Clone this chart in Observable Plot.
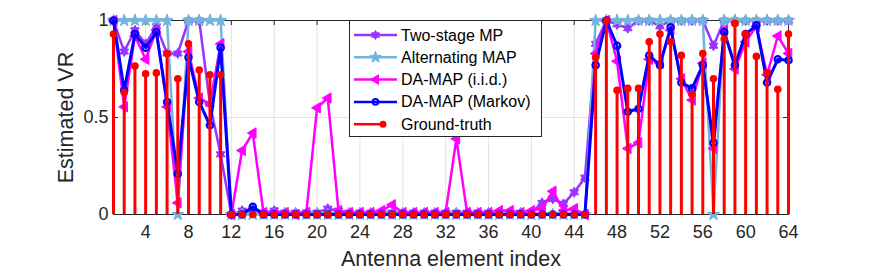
<!DOCTYPE html>
<html><head><meta charset="utf-8">
<script src="https://cdn.jsdelivr.net/npm/d3@7"></script>
<script src="https://cdn.jsdelivr.net/npm/@observablehq/plot@0.6"></script>
<style>
body{margin:0;background:#fff;}
#wrap{position:relative;width:872px;height:273px;font-family:"Liberation Sans",Arial,Helvetica,sans-serif;}
#legend{position:absolute;left:349px;top:20px;}
</style></head><body><div id="wrap"></div>
<script>
const antennaIndex = d3.range(1, 65);
const twoStageMP = [1.0,0.84,0.95,0.88,0.97,0.83,0.83,1.0,1.0,0.57,0.31,
  0,0.02,0.02,0.01,0.02,0.01,0.01,0.01,0.01,0.03,0.02,0.01,0.01,0.01,0.01,0.01,0.01,0.01,0.01,0.01,0.01,0.01,0.01,0.01,0.01,0.01,0.01,0.01,0.01,0.06,0.08,0.055,0.115,0.19,
  0.88,1.0,0.98,0.96,1.0,1.0,0.97,1.0,1.0,1.0,1.0,0.87,1.0,1.0,1.0,1.0,1.0,1.0,1.0];
const alternatingMAP = [1,1,1,1,1,1,0,1,1,1,1,
  0,0,0,0,0,0,0,0,0,0,0,0,0,0,0,0,0,0,0,0,0,0,0,0,0,0,0,0,0,0,0,0,0,0,
  1,1,1,1,1,1,1,1,1,1,1,0,1,1,1,1,1,1,1];
const daMapIID = [1.0,0.555,0.92,0.80,0.95,0.555,0.06,0.84,0.60,0.57,0.88,
  0.0,0.33,0.42,0.01,0.01,0.01,0.0,0.01,0.55,0.60,0.02,0.01,0.01,0.01,0.02,0.05,0.01,0.01,0.01,0.01,0.01,0.39,0.01,0.01,0.01,0.02,0.02,0.01,0.02,0.03,0.12,0.02,0.03,0.0,
  0.83,1.0,0.79,0.34,0.37,0.80,0.78,0.95,0.70,0.59,0.78,0.34,0.95,0.75,0.89,0.97,0.72,0.92,0.83];
const daMapMarkov = [1.0,0.64,0.93,0.86,0.94,0.58,0.21,0.81,0.58,0.46,0.86,
  0,0,0.04,0,0,0,0,0,0,0,0,0,0,0,0,0,0,0,0,0,0,0,0,0,0,0,0,0,0,0,0,0,0,0,
  0.77,1.0,0.87,0.53,0.545,0.82,0.77,0.965,0.68,0.65,0.77,0.37,0.94,0.77,0.93,0.975,0.68,0.80,0.795];
const groundTruth = [0.93,0.63,0.765,0.725,0.73,0.83,0.70,0.88,0.745,0.72,0.72,
  0,0,0,0,0,0,0,0,0,0,0,0,0,0,0,0,0,0,0,0,0,0,0,0,0,0,0,0,0,0,0,0,0,0,
  0.81,1.0,0.64,0.65,0.65,0.89,0.93,0.89,0.82,0.62,0.83,0.70,0.905,0.985,0.93,0.815,0.73,0.645,0.93];
const xTicks = [4,8,12,16,20,24,28,32,36,40,44,48,52,56,60,64];
const yTicks = [0,0.5,1];
const yTickLabels = ["0","0.5","1"];
const seriesNames = ["Two-stage MP","Alternating MAP","DA-MAP (i.i.d.)","DA-MAP (Markov)","Ground-truth"];
const seriesColors = ["#9933ff","#72b4dc","#ff00ff","#0000ff","#ff0000"];
const xLabel = "Antenna element index";
const yLabel = "Estimated VR";

// custom marker shapes
function starPath(ctx, R, n, inner) {
  for (let k = 0; k < 2*n; k++) {
    const a = -Math.PI/2 + k*Math.PI/n;
    const rr = k % 2 ? R*inner : R;
    const x = rr*Math.cos(a), y = rr*Math.sin(a);
    k ? ctx.lineTo(x, y) : ctx.moveTo(x, y);
  }
  ctx.closePath();
}
const hexagram = {draw(ctx, size){ starPath(ctx, Math.sqrt(size/Math.PI), 6, 0.577); }};
const pentagram = {draw(ctx, size){ starPath(ctx, Math.sqrt(size/Math.PI), 5, 0.4); }};
const leftTri = {draw(ctx, size){ const R = Math.sqrt(size/Math.PI);
  ctx.moveTo(-R, 0); ctx.lineTo(R*0.6, -R*0.95); ctx.lineTo(R*0.6, R*0.95); ctx.closePath(); }};

const rows = antennaIndex.map((i, k) => ({i, ts: twoStageMP[k], alt: alternatingMAP[k], iid: daMapIID[k], mk: daMapMarkov[k], gt: groundTruth[k]}));

const W = 872, H = 273, mL = 113, mR = 84, mT = 20, mB = 59;
const pw = W - mL - mR, ph = H - mT - mB;
const axisColor = "#262626";
const lw = 2.5;

const chart = Plot.plot({
  width: W, height: H, marginLeft: mL, marginRight: mR, marginTop: mT, marginBottom: mB,
  x: {domain: [1, 64], label: null}, y: {domain: [0, 1], label: null},
  style: {fontFamily: "Liberation Sans, Arial, sans-serif", fontSize: "18px", color: axisColor, background: "white", overflow: "visible"},
  marks: [
    Plot.gridX(xTicks, {stroke: "#e3e3e3", strokeOpacity: 1}),
    Plot.gridY(yTicks, {stroke: "#e3e3e3", strokeOpacity: 1}),
    Plot.frame({stroke: axisColor}),
    Plot.ruleX(xTicks, {stroke: axisColor, insetTop: ph - 5}),
    Plot.ruleX(xTicks, {stroke: axisColor, insetBottom: ph - 5}),
    Plot.ruleY(yTicks, {stroke: axisColor, insetRight: pw - 5}),
    Plot.ruleY(yTicks, {stroke: axisColor, insetLeft: pw - 5}),
    Plot.axisX(xTicks, {tickSize: 0, tickPadding: 11, fill: axisColor, fontSize: 18, label: null}),
    Plot.axisY(yTicks, {tickSize: 0, tickPadding: 5, fill: axisColor, fontSize: 18, tickFormat: d => yTickLabels[yTicks.indexOf(d)], label: null}),
    Plot.text([xLabel], {frameAnchor: "bottom", lineAnchor: "middle", textAnchor: "middle", dy: 45, fontSize: 21.5, fill: axisColor}),
    Plot.text([yLabel], {frameAnchor: "left", textAnchor: "middle", lineAnchor: "middle", dx: -47, rotate: -90, fontSize: 21.5, fill: axisColor}),
    // Two-stage MP
    Plot.line(rows, {x: "i", y: "ts", stroke: seriesColors[0], strokeWidth: lw}),
    Plot.dot(rows, {x: "i", y: "ts", symbol: hexagram, r: 5, fill: seriesColors[0], stroke: seriesColors[0], strokeWidth: 1}),
    // Alternating MAP
    Plot.line(rows, {x: "i", y: "alt", stroke: seriesColors[1], strokeWidth: lw}),
    Plot.dot(rows, {x: "i", y: "alt", symbol: pentagram, r: 6.5, fill: seriesColors[1], stroke: seriesColors[1], strokeWidth: 1}),
    // DA-MAP iid
    Plot.line(rows, {x: "i", y: "iid", stroke: seriesColors[2], strokeWidth: lw}),
    Plot.dot(rows, {x: "i", y: "iid", symbol: leftTri, r: 5.5, fill: seriesColors[2], stroke: seriesColors[2], strokeWidth: 1}),
    // DA-MAP Markov
    Plot.line(rows, {x: "i", y: "mk", stroke: seriesColors[3], strokeWidth: 3}),
    Plot.dot(rows, {x: "i", y: "mk", r: 3.2, fill: "none", stroke: seriesColors[3], strokeWidth: 2.2}),
    // Ground truth
    Plot.ruleX(rows, {x: "i", y1: 0, y2: "gt", stroke: seriesColors[4], strokeWidth: 3}),
    Plot.dot(rows, {x: "i", y: "gt", r: 3.8, fill: seriesColors[4], stroke: "none"})
  ]
});
const wrap = document.getElementById("wrap");
wrap.appendChild(chart);

// legend box
const ns = "http://www.w3.org/2000/svg";
const lg = document.createElementNS(ns, "svg");
lg.setAttribute("id", "legend");
lg.setAttribute("width", 193); lg.setAttribute("height", 117);
const mk = (tag, attrs, parent) => { const e = document.createElementNS(ns, tag); for (const k in attrs) e.setAttribute(k, attrs[k]); (parent || lg).appendChild(e); return e; };
mk("rect", {x: 0.5, y: 0.5, width: 192, height: 116, fill: "white", stroke: axisColor, "stroke-width": 1});
const shapes = [hexagram, pentagram, leftTri, null, null];
const shapeR = [4.5, 6, 5, 0, 0];
seriesNames.forEach((name, k) => {
  const cy = 15 + k*22.3;
  const c = seriesColors[k];
  if (k < 4) {
    mk("line", {x1: 5, x2: 48, y1: cy, y2: cy, stroke: c, "stroke-width": 2.5});
    if (shapes[k]) {
      const p = d3.path(); shapes[k].draw(p, Math.PI*shapeR[k]*shapeR[k]);
      mk("path", {d: p.toString(), transform: `translate(26.5,${cy})`, fill: c, stroke: c});
    } else {
      mk("circle", {cx: 26.5, cy, r: 2.8, fill: "none", stroke: c, "stroke-width": 2});
    }
  } else {
    mk("line", {x1: 5, x2: 34, y1: cy, y2: cy, stroke: c, "stroke-width": 2.5});
    mk("circle", {cx: 34, cy, r: 3.5, fill: c});
  }
  const t = mk("text", {x: 52, y: cy, "dominant-baseline": "central", "font-size": 16, fill: "#000", "font-family": "Liberation Sans, Arial, sans-serif"});
  t.textContent = name;
});
wrap.appendChild(lg);
</script></body></html>
